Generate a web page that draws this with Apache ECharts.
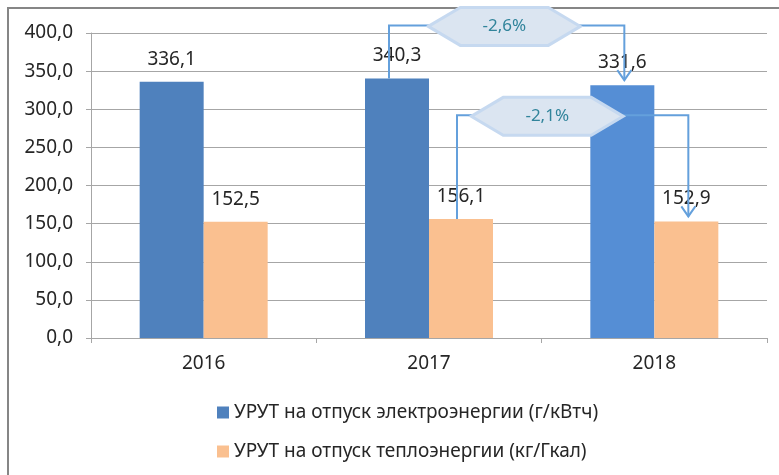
<!DOCTYPE html>
<html>
<head>
<meta charset="utf-8">
<script src="https://cdn.jsdelivr.net/npm/echarts@6/dist/echarts.min.js"></script>
<style>
  html, body { margin: 0; padding: 0; background: #fff; }
  #chart { width: 779px; height: 475px; }
</style>
</head>
<body>
<div id="chart"></div>
<script>
// Categories and values
var years = ['2016', '2017', '2018'];
var electricity = [336.1, 340.3, 331.6];   // г/кВтч
var heat = [152.5, 156.1, 152.9];          // кг/Гкал
var seriesNames = ['УРУТ на отпуск электроэнергии (г/кВтч)', 'УРУТ на отпуск теплоэнергии (кг/Гкал)'];
var yTicks = [0, 50, 100, 150, 200, 250, 300, 350, 400];

// Change callouts: series, from/to year index, connector level (axis units), badge text
var calloutSeries = [0, 1];
var calloutFrom = [1, 1];
var calloutTo = [2, 2];
var calloutLevel = [410, 292];
var calloutPos = [0.49, 0.39];
var calloutText = ['-2,6%', '-2,1%'];

var BLUE = '#4F81BD';
var BLUE_LAST = '#558ED5';
var ORANGE = '#FAC090';
var TEXT = '#262626';
var GRID = '#A6A6A6';
var FONT = '"Noto Sans", "Open Sans", sans-serif';
var BAR_W = 64;

function fmt(v) { return v.toFixed(1).replace('.', ','); }

var chart = echarts.init(document.getElementById('chart'), null, { renderer: 'canvas' });

var elecData = electricity.map(function (v, i) {
  return { value: v, itemStyle: { color: i === electricity.length - 1 ? BLUE_LAST : BLUE } };
});

var labelCfg = {
  show: true,
  position: 'top',
  distance: 13,
  color: TEXT,
  fontFamily: FONT,
  fontSize: 19,
  formatter: function (p) { return fmt(p.value); }
};

chart.setOption({
  animation: false,
  backgroundColor: '#fff',
  grid: { left: 91, right: 12, top: 33, bottom: 137, containLabel: false },
  legend: {
    orient: 'vertical',
    left: 212,
    top: 397,
    icon: 'rect',
    itemWidth: 12,
    itemHeight: 12,
    itemGap: 18,
    itemTextGap: 5,
    textStyle: { color: TEXT, fontFamily: FONT, fontSize: 19, lineHeight: 21 },
    data: [
      { name: seriesNames[0], itemStyle: { color: BLUE } },
      { name: seriesNames[1], itemStyle: { color: ORANGE } }
    ]
  },
  xAxis: {
    type: 'category',
    data: years,
    axisLine: { lineStyle: { color: GRID, width: 1 } },
    axisTick: { show: true, length: 5, lineStyle: { color: GRID } },
    axisLabel: { color: TEXT, fontFamily: FONT, fontSize: 19, margin: 16 }
  },
  yAxis: {
    type: 'value',
    min: yTicks[0],
    max: yTicks[yTicks.length - 1],
    interval: yTicks[1] - yTicks[0],
    axisLine: { show: true, lineStyle: { color: GRID, width: 1 } },
    axisTick: { show: true, length: 5, lineStyle: { color: GRID } },
    splitLine: { show: true, lineStyle: { color: GRID, width: 1 } },
    axisLabel: { color: TEXT, fontFamily: FONT, fontSize: 19, margin: 18, formatter: fmt }
  },
  series: [
    {
      name: seriesNames[0],
      type: 'bar',
      barWidth: BAR_W,
      barGap: '0%',
      itemStyle: { color: BLUE },
      label: labelCfg,
      data: elecData
    },
    {
      name: seriesNames[1],
      type: 'bar',
      barWidth: BAR_W,
      barGap: '0%',
      itemStyle: { color: ORANGE },
      label: labelCfg,
      data: heat
    }
  ]
});

// Callouts: connector from one bar to another with a hexagon badge showing the change
function drawCallouts() {
  var seriesValues = [electricity, heat];
  var elements = [];
  // outer frame of the chart area
  elements.push({
    type: 'rect', z: 100, silent: true,
    shape: { x: 8, y: 8, width: 900, height: 600 },
    style: { fill: 'none', stroke: '#868686', lineWidth: 2 }
  });
  for (var k = 0; k < calloutSeries.length; k++) {
    var s = calloutSeries[k];
    var vals = seriesValues[s];
    var i0 = calloutFrom[k], i1 = calloutTo[k];
    var dx = (s === 0 ? -1 : 1) * BAR_W / 2;
    var p0 = chart.convertToPixel({ gridIndex: 0 }, [years[i0], vals[i0]]);
    var p1 = chart.convertToPixel({ gridIndex: 0 }, [years[i1], vals[i1]]);
    var yl = chart.convertToPixel({ yAxisIndex: 0 }, calloutLevel[k]);
    var x0 = p0[0] + dx - (k === 0 ? 8 : 4);
    var x1 = p1[0] + dx + 2;
    var yTip = p1[1] - 5;
    elements.push({
      type: 'polyline', z: 100, silent: true,
      shape: { points: [[x0, p0[1]], [x0, yl], [x1, yl], [x1, yTip]] },
      style: { stroke: '#64A0DC', lineWidth: 2, fill: null }
    });
    elements.push({
      type: 'polyline', z: 100, silent: true,
      shape: { points: [[x1 - 7, yTip - 10], [x1, yTip], [x1 + 7, yTip - 10]] },
      style: { stroke: '#64A0DC', lineWidth: 2, fill: null }
    });
    var cx = x0 + (x1 - x0) * calloutPos[k];
    var cy = yl + 1;
    var hw = 76, hh = 19, inset = 32;
    elements.push({
      type: 'polygon', z: 101, silent: true,
      shape: { points: [[cx - hw, cy], [cx - hw + inset, cy - hh], [cx + hw - inset, cy - hh],
                        [cx + hw, cy], [cx + hw - inset, cy + hh], [cx - hw + inset, cy + hh]] },
      style: { fill: '#DBE5F1', stroke: '#C6D9F0', lineWidth: 3 }
    });
    elements.push({
      type: 'text', z: 102, silent: true,
      x: cx, y: cy,
      style: {
        text: calloutText[k],
        fill: '#31849B', font: '17px ' + FONT,
        align: 'center', verticalAlign: 'middle'
      }
    });
  }
  chart.setOption({ graphic: { elements: elements } });
}
drawCallouts();
</script>
</body>
</html>
